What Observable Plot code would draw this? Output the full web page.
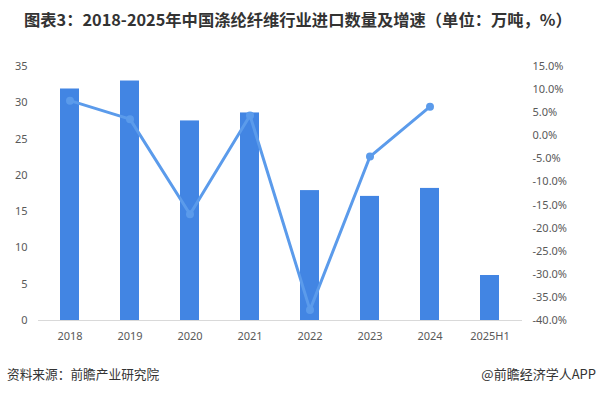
<!DOCTYPE html>
<html><head><meta charset="utf-8">
<script src="https://cdn.jsdelivr.net/npm/d3@7"></script>
<script src="https://cdn.jsdelivr.net/npm/@observablehq/plot@0.6"></script>
<style>
body{margin:0;background:#fff;width:597px;height:395px;position:relative;overflow:hidden;font-family:"Noto Sans CJK SC","Noto Sans",sans-serif;}
#title{position:absolute;left:24px;top:7px;font-size:16.3px;font-weight:bold;color:#333;white-space:nowrap;}
#chart{position:absolute;left:0;top:45px;}
#src{position:absolute;left:7px;top:364px;font-size:12.7px;color:#333;}
#brand{position:absolute;right:1px;top:364px;font-size:13px;color:#333;}
</style></head>
<body>
<div id="title">图表3：2018-2025年中国涤纶纤维行业进口数量及增速（单位：万吨，%）</div>
<div id="chart"></div>
<div id="src">资料来源：前瞻产业研究院</div>
<div id="brand">@前瞻经济学人APP</div>
<script>
const categories = ["2018","2019","2020","2021","2022","2023","2024","2025H1"];
const volume = [31.9, 33.0, 27.5, 28.6, 17.9, 17.1, 18.2, 6.2];
const growth = [7.6, 3.6, -17.0, 4.4, -37.7, -4.5, 6.3, null];
const leftTicks = [0,5,10,15,20,25,30,35];
const rightTicks = [-40,-35,-30,-25,-20,-15,-10,-5,0,5,10,15];

const L = [0,35], R = [-40,15];
const toLeft = p => (p - R[0]) / (R[1]-R[0]) * (L[1]-L[0]) + L[0];
const toRight = v => (v - L[0]) / (L[1]-L[0]) * (R[1]-R[0]) + R[0];

const bars = categories.map((c,i)=>({c, v: volume[i]}));
const pts = categories.map((c,i)=>({c, g: growth[i]})).filter(d=>d.g!=null).map(d=>({c:d.c, y: toLeft(d.g)}));

const chart = Plot.plot({
  width: 597, height: 305,
  marginLeft: 38, marginRight: 75, marginTop: 21, marginBottom: 30,
  style: {fontFamily: "'Noto Sans','Open Sans',sans-serif", fontSize: "11px", color: "#595959", background: "#fff"},
  x: {domain: categories, paddingInner: 0.68, paddingOuter: 0.34, label: null},
  y: {domain: L, label: null},
  marks: [
    Plot.barY(bars, {x: "c", y: "v", fill: "#4285E3"}),
    Plot.ruleY([0], {stroke: "#d9d9d9", strokeWidth: 1}),
    Plot.line(pts, {x: "c", y: "y", stroke: "#5B9BEB", strokeWidth: 3}),
    Plot.dot(pts, {x: "c", y: "y", fill: "#5B9BEB", r: 4}),
    Plot.axisX({tickSize: 0, tickPadding: 12, label: null}),
    Plot.axisY({ticks: leftTicks, tickSize: 0, tickPadding: 11, label: null}),
    Plot.axisY({anchor: "right", ticks: rightTicks.map(toLeft), tickSize: 0, tickPadding: 10, textAnchor: "start", label: null,
      tickFormat: v => Math.round(toRight(v)).toFixed(1) + "%"})
  ]
});
document.getElementById("chart").appendChild(chart);
</script>
</body></html>
